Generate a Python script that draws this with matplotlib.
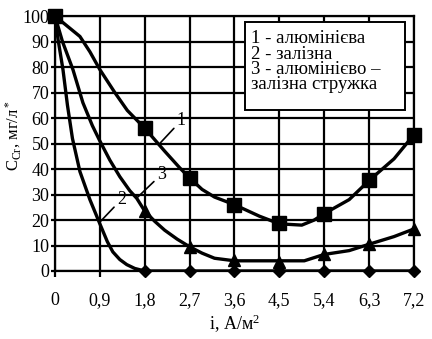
import matplotlib
matplotlib.use("Agg")
import matplotlib.pyplot as plt
from matplotlib.patches import Rectangle

plt.rcParams['font.family'] = ['Liberation Serif', 'DejaVu Serif']
plt.rcParams['mathtext.fontset'] = 'custom'
plt.rcParams['mathtext.rm'] = 'Liberation Serif'
plt.rcParams['mathtext.it'] = 'Liberation Serif:italic'

# значення в точках вимірювання
i_ticks = [0, 0.9, 1.8, 2.7, 3.6, 4.5, 5.4, 6.3, 7.2]
tick_labels = ["0", "0,9", "1,8", "2,7", "3,6", "4,5", "5,4", "6,3", "7,2"]

i_1 = [0, 1.8, 2.7, 3.6, 4.5, 5.4, 6.3, 7.2]
c_1 = [100, 56, 36.5, 26, 19, 22.5, 35.5, 53.5]
i_2 = [1.8, 2.7, 3.6, 4.5, 5.4, 6.3, 7.2]
c_2 = [0, 0, 0, 0, 0, 0, 0]
i_3 = [1.8, 2.7, 3.6, 4.5, 5.4, 6.3, 7.2]
c_3 = [23.5, 9.5, 4.5, 3.5, 6.5, 10.5, 16.5]

# форма кривих
line1_x = [0, 0.25, 0.5, 0.7, 0.9, 1.2, 1.45, 1.8, 2.2, 2.5, 2.7, 2.95, 3.2, 3.6, 4.1, 4.5,
           4.95, 5.2, 5.4, 5.9, 6.3, 6.8, 7.2]
line1_y = [100, 96, 92, 86, 79, 70, 63, 56, 47, 40.5, 36.5, 32, 29, 26, 21.5, 18.5,
           18, 20, 22.5, 28, 35.5, 44, 53.5]
line2_x = [0, 0.06, 0.16, 0.25, 0.35, 0.5, 0.7, 0.9, 1.05, 1.16, 1.3, 1.44, 1.6, 1.8, 7.2]
line2_y = [100, 91, 79, 65, 52, 39, 28, 18.5, 11.5, 7.5, 4.5, 2.5, 1, 0, 0]
line3_x = [0, 0.15, 0.36, 0.56, 0.75, 0.9, 1.1, 1.3, 1.5, 1.64, 1.8, 2.0, 2.2, 2.45, 2.7,
           2.95, 3.2, 3.6, 4.5, 5.0, 5.4, 5.9, 6.3, 6.8, 7.2]
line3_y = [100, 90, 79, 66, 57, 51, 43.5, 37, 31.5, 28.5, 23.5, 19.5, 16, 12.5, 9.5,
           7, 5, 4, 4, 4, 6.5, 8, 10.5, 13.5, 16.5]

fig = plt.figure(figsize=(4.32, 3.39), dpi=100)
ax = fig.add_axes([0.1273, 0.2006, 0.831, 0.752])

lw = 2.4
for lx, ly in [(line1_x, line1_y), (line2_x, line2_y), (line3_x, line3_y)]:
    ax.plot(lx, ly, color='black', lw=lw, zorder=3, solid_joinstyle='round')
ax.plot(i_1, c_1, 's', color='black', ms=9.5, zorder=4, clip_on=False)
ax.plot(i_2, c_2, 'D', color='black', ms=6.5, zorder=4, clip_on=False)
ax.plot(i_3, c_3, '^', color='black', ms=8.5, zorder=4, clip_on=False)

ax.set_xlim(0, 7.2)
ax.set_ylim(0, 100)
ax.set_xticks(i_ticks)
ax.set_xticklabels(tick_labels)
ax.set_yticks(range(0, 101, 10))
ax.grid(True, color='black', lw=1.6)
ax.set_axisbelow(True)
for s in ax.spines.values():
    s.set_linewidth(1.6)
ax.tick_params(axis='x', direction='out', length=4, width=1.6, pad=11, labelsize=13)
ax.tick_params(axis='y', direction='out', length=3, width=1.6, pad=1, labelsize=13)

ax.set_xlabel("i, А/м$^2$", fontsize=13, labelpad=3)
ax.set_ylabel("С$_{\\mathrm{Cr}}$, мг/л$^*$", fontsize=12)
ax.yaxis.set_label_coords(-0.09, 0.53)

# підписи кривих
arr = dict(arrowstyle='-', color='black', lw=1.2, shrinkA=0, shrinkB=0)
ax.annotate("1", xy=(2.11, 50.2), xytext=(2.44, 55.7), fontsize=13,
            ha='left', va='bottom', arrowprops=arr)
ax.annotate("3", xy=(1.66, 29), xytext=(2.04, 34.5), fontsize=13,
            ha='left', va='bottom', arrowprops=arr)
ax.annotate("2", xy=(0.9, 19.2), xytext=(1.24, 24.7), fontsize=13,
            ha='left', va='bottom', arrowprops=arr)

# легенда
ax.add_patch(Rectangle((0.529, 0.631), 0.446, 0.345, transform=ax.transAxes,
                       facecolor='white', edgecolor='black', lw=1.4, zorder=5))
ax.text(0.546, 0.945, "1 - алюмінієва\n2 - залізна\n3 - алюмінієво –\nзалізна стружка",
        transform=ax.transAxes, ha='left', va='top', fontsize=13.5, linespacing=0.88,
        zorder=6)

plt.savefig("out.png", dpi=100)
